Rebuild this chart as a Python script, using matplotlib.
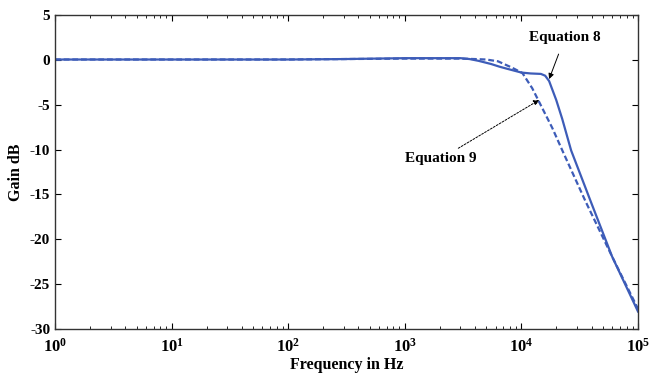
import matplotlib
matplotlib.use("Agg")
import matplotlib.pyplot as plt
from matplotlib.ticker import LogLocator, NullFormatter

plt.rcParams['font.family'] = ['Liberation Serif', 'DejaVu Serif']
plt.rcParams['font.weight'] = 'bold'
plt.rcParams['mathtext.fontset'] = 'custom'
plt.rcParams['mathtext.rm'] = 'Liberation Serif:bold'
plt.rcParams['mathtext.it'] = 'Liberation Serif:bold'
plt.rcParams['mathtext.bf'] = 'Liberation Serif:bold'

# Equation 8 (solid)
freq_eq8 = [1, 100, 300, 1000, 2000, 3000, 3600, 4300, 5500, 6500, 7400, 10000,
            12000, 14700, 16000, 17300, 19900, 22400, 26700, 33000, 39400, 60000, 100000]
gain_eq8 = [0, 0, 0.05, 0.15, 0.15, 0.15, 0.05, -0.15, -0.5, -0.8, -1.0, -1.45,
            -1.55, -1.6, -1.8, -2.4, -4.5, -6.6, -10.1, -13.2, -15.8, -21.9, -28.0]

# Equation 9 (dashed)
freq_eq9 = [1, 100, 300, 1000, 2000, 3000, 4000, 5000, 6300, 8300, 10200, 12400,
            15100, 18400, 22800, 35600, 60000, 100000]
gain_eq9 = [0, 0, 0.05, 0.1, 0.1, 0.1, 0.05, 0.0, -0.2, -0.9, -1.5, -3.2,
            -5.4, -7.6, -10.3, -15.8, -21.9, -27.7]

yticks = [5, 0, -5, -10, -15, -20, -25, -30]
xticks = [1, 10, 100, 1000, 10000, 100000]
xticklabels = [r'$10^{0}$', r'$10^{1}$', r'$10^{2}$', r'$10^{3}$', r'$10^{4}$', r'$10^{5}$']

color = '#3d5cb8'

fig = plt.figure(figsize=(6.51, 3.76), dpi=100)
ax = fig.add_axes([0.0845, 0.1237, 0.8955, 0.8377])

ax.plot(freq_eq8, gain_eq8, color=color, lw=1.6, ls='-')
ax.plot(freq_eq9, gain_eq9, color=color, lw=1.6, ls=(0, (2.6, 1.3)))

ax.set_xscale('log')
ax.set_xlim(1, 1e5)
ax.set_ylim(-30, 5)
ax.set_xticks(xticks)
ax.set_xticklabels(xticklabels, fontsize=12)
ax.xaxis.set_minor_locator(LogLocator(base=10, subs=range(2, 10), numticks=20))
ax.xaxis.set_minor_formatter(NullFormatter())
ax.set_yticks(yticks)
ax.set_yticklabels([str(v) for v in yticks], fontsize=11, fontweight='bold')

ax.tick_params(which='both', direction='in', top=True, right=True)
ax.tick_params(which='major', length=4, width=0.8)
ax.tick_params(which='minor', length=2.5, width=0.6)
ax.tick_params(axis='x', pad=6)
for s in ax.spines.values():
    s.set_linewidth(1.0)
    s.set_color('#333333')

ax.set_xlabel('Frequency in Hz', fontsize=11.5, fontweight='bold', labelpad=1)
ax.set_ylabel('Gain dB', fontsize=11.5, fontweight='bold', labelpad=4)

ax.annotate('Equation 8', xy=(17300, -2.17), xytext=(23700, 2.5),
            fontsize=11, fontweight='bold', ha='center', va='center',
            arrowprops=dict(arrowstyle='-|>', color='black', lw=0.7,
                            shrinkA=6, shrinkB=0, mutation_scale=8))
ax.annotate('Equation 9', xy=(14200, -4.5), xytext=(2020, -11.05),
            fontsize=11, fontweight='bold', ha='center', va='center',
            arrowprops=dict(arrowstyle='-|>', color='black', lw=0.7, ls=(0, (2, 1.5)),
                            shrinkA=2, shrinkB=0, mutation_scale=8))

fig.savefig('out.png', dpi=100)
